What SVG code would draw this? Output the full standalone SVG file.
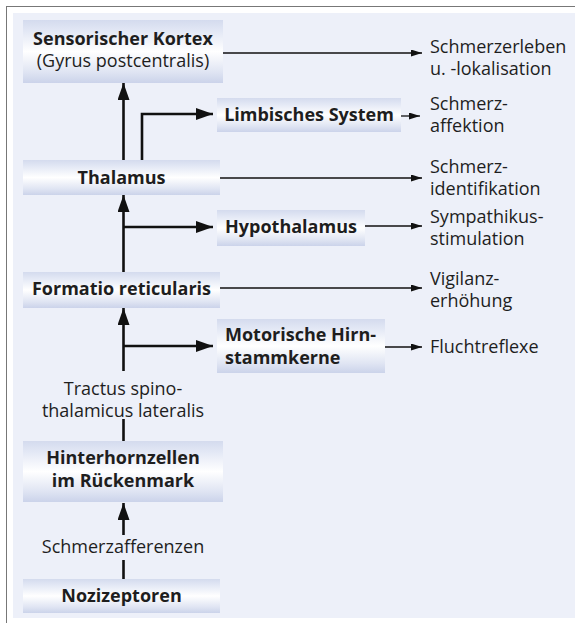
<svg xmlns="http://www.w3.org/2000/svg" width="575" height="623" viewBox="0 0 575 623">
<defs>
<linearGradient id="box" x1="0" y1="0" x2="0" y2="1">
<stop offset="0" stop-color="#d4dbee"/>
<stop offset="0.18" stop-color="#e3e8f5"/>
<stop offset="0.5" stop-color="#ffffff"/>
<stop offset="0.82" stop-color="#e0e5f3"/>
<stop offset="1" stop-color="#cbd3ea"/>
</linearGradient>
<marker id="big" markerUnits="userSpaceOnUse" markerWidth="18" markerHeight="12" viewBox="0 0 18 12" refX="17" refY="6" orient="auto">
<path d="M0,0 L17,6 L0,12 Z" fill="#111"/>
</marker>
<marker id="small" markerUnits="userSpaceOnUse" markerWidth="11" markerHeight="7" viewBox="0 0 11 7" refX="11" refY="3.5" orient="auto">
<path d="M0,0 L11,3.5 L0,7 Z" fill="#111"/>
</marker>
</defs>
<style>
.box{fill:url(#box)}
.b{font-family:"Open Sans","Liberation Sans",sans-serif;font-weight:bold;font-size:18px;fill:#1e1e1e}
.r{font-family:"Open Sans","Liberation Sans",sans-serif;font-size:18px;fill:#1e1e1e}
.thick{fill:none;stroke:#111;stroke-width:2.6}
.thin{fill:none;stroke:#111;stroke-width:1.3}
</style>
<rect x="0" y="0" width="575" height="623" fill="#ffffff"/>
<rect x="6.5" y="6.5" width="580" height="630" fill="none" stroke="#777" stroke-width="1"/>
<rect x="13" y="13" width="562" height="605" fill="#edf0f9"/>

<g id="connectors">
<path class="thick" d="M123.5,160 V83" marker-end="url(#big)"/>
<path class="thick" d="M142,160 V114 H213" marker-end="url(#big)"/>
<path class="thick" d="M123.5,272 V195" marker-end="url(#big)"/>
<path class="thick" d="M123.5,227 H213" marker-end="url(#big)"/>
<path class="thick" d="M123.5,371 V308" marker-end="url(#big)"/>
<path class="thick" d="M123.5,346 H213" marker-end="url(#big)"/>
<path class="thick" d="M123.5,419 V441"/>
<path class="thick" d="M123.5,535 V503" marker-end="url(#big)"/>
<path class="thick" d="M123.5,560 V579"/>
<path class="thin" d="M223,53 H422" marker-end="url(#small)"/>
<path class="thin" d="M401,116 H420" marker-end="url(#small)"/>
<path class="thin" d="M220,178 H422" marker-end="url(#small)"/>
<path class="thin" d="M365,226 H422" marker-end="url(#small)"/>
<path class="thin" d="M220,288 H422" marker-end="url(#small)"/>
<path class="thin" d="M385,347 H422" marker-end="url(#small)"/>
</g>

<g id="sensorischer-kortex">
<rect class="box" x="23" y="20" width="200" height="63"/>
<text class="b" x="123" y="45" text-anchor="middle">Sensorischer Kortex</text>
<text class="r" x="123" y="67" text-anchor="middle">(Gyrus postcentralis)</text>
</g>
<g id="limbisches-system">
<rect class="box" x="217" y="98" width="184" height="34"/>
<text class="b" x="309" y="121" text-anchor="middle">Limbisches System</text>
</g>
<g id="thalamus">
<rect class="box" x="23" y="160" width="197" height="35"/>
<text class="b" x="121.5" y="184" text-anchor="middle">Thalamus</text>
</g>
<g id="hypothalamus">
<rect class="box" x="217" y="210" width="148" height="36"/>
<text class="b" x="291" y="233" text-anchor="middle">Hypothalamus</text>
</g>
<g id="formatio-reticularis">
<rect class="box" x="23" y="272" width="197" height="36"/>
<text class="b" x="121.5" y="295" text-anchor="middle">Formatio reticularis</text>
</g>
<g id="motorische-hirnstammkerne">
<rect class="box" x="217" y="319" width="168" height="54"/>
<text class="b" x="225" y="341">Motorische Hirn-<tspan x="225" dy="23">stammkerne</tspan></text>
</g>
<g id="tractus-label">
<text class="r" x="123" y="395" text-anchor="middle">Tractus spino-<tspan x="123" dy="22">thalamicus lateralis</tspan></text>
</g>
<g id="hinterhornzellen">
<rect class="box" x="23" y="441" width="200" height="61"/>
<text class="b" x="123" y="464" text-anchor="middle">Hinterhornzellen<tspan x="123" dy="23">im Rückenmark</tspan></text>
</g>
<g id="schmerzafferenzen-label">
<text class="r" x="123" y="553" text-anchor="middle">Schmerzafferenzen</text>
</g>
<g id="nozizeptoren">
<rect class="box" x="23" y="579" width="197" height="34"/>
<text class="b" x="121.5" y="602" text-anchor="middle">Nozizeptoren</text>
</g>

<g id="outputs">
<text class="r" x="430" y="53">Schmerzerleben<tspan x="430" dy="22">u. -lokalisation</tspan></text>
<text class="r" x="430" y="110">Schmerz-<tspan x="430" dy="22">affektion</tspan></text>
<text class="r" x="430" y="173">Schmerz-<tspan x="430" dy="22">identifikation</tspan></text>
<text class="r" x="430" y="223">Sympathikus-<tspan x="430" dy="22">stimulation</tspan></text>
<text class="r" x="430" y="285">Vigilanz-<tspan x="430" dy="22">erhöhung</tspan></text>
<text class="r" x="430" y="353">Fluchtreflexe</text>
</g>
</svg>
